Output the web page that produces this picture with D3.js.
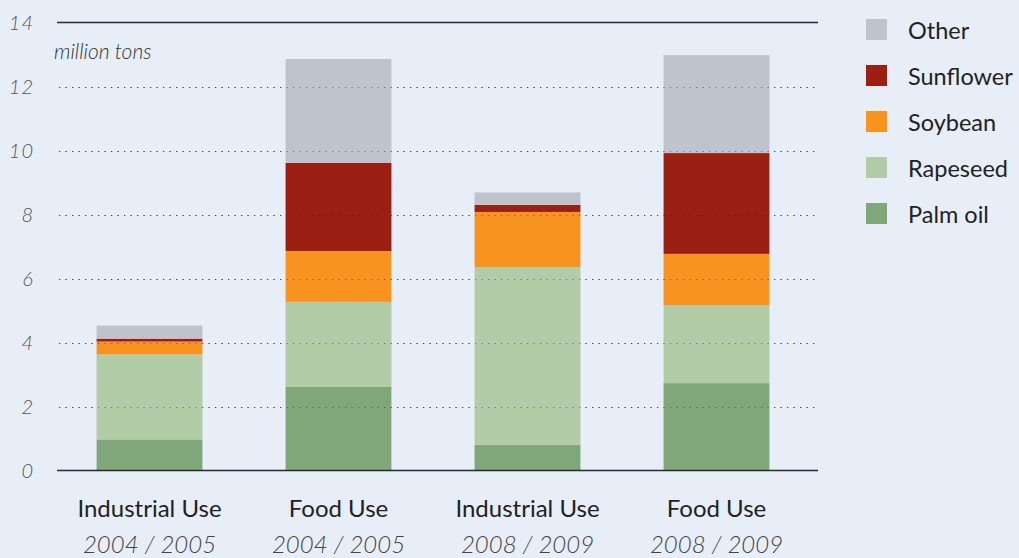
<!DOCTYPE html>
<html>
<head>
<meta charset="utf-8">
<script src="https://cdn.jsdelivr.net/npm/d3@7"></script>
<style>
  html, body { margin: 0; padding: 0; background: #e7eef8; }
  svg { display: block; font-family: Lato, "Open Sans", sans-serif; }
</style>
</head>
<body>
<svg id="chart" width="1019" height="558"></svg>
<script>
const categories = ['Industrial Use', 'Food Use', 'Industrial Use', 'Food Use'];
const years = ['2004 / 2005', '2004 / 2005', '2008 / 2009', '2008 / 2009'];
const seriesNames = ['Palm oil', 'Rapeseed', 'Soybean', 'Sunflower', 'Other'];
const palmOil = [0.97, 2.61, 0.80, 2.73];
const rapeseed = [2.66, 2.66, 5.56, 2.44];
const soybean = [0.40, 1.59, 1.72, 1.60];
const sunflower = [0.09, 2.75, 0.22, 3.15];
const other = [0.41, 3.25, 0.39, 3.06];
const yTicks = [0, 2, 4, 6, 8, 10, 12, 14];

const COLORS = {
    'Palm oil': '#7fa77a',
    'Rapeseed': '#b2cca8',
    'Soybean': '#f7931e',
    'Sunflower': '#9c1f14',
    'Other': '#bec4ce'
};

const svg = d3.select('#chart');

// rows for the stack
const rows = categories.map((c, i) => ({
    key: i,
    'Palm oil': palmOil[i],
    'Rapeseed': rapeseed[i],
    'Soybean': soybean[i],
    'Sunflower': sunflower[i],
    'Other': other[i]
}));
const stacked = d3.stack().keys(seriesNames)(rows);

const x = d3.scaleBand()
    .domain(d3.range(categories.length))
    .range([55, 811])
    .paddingInner(0.44)
    .paddingOuter(0.22);

const y = d3.scaleLinear()
    .domain([0, 14])
    .range([470.5, 22.5]);

const left = 57, right = 818;

// dotted gridlines
svg.append('g')
    .selectAll('line')
    .data(yTicks.filter(t => t > 0 && t < 14))
    .enter()
    .append('line')
    .attr('x1', left + 2)
    .attr('x2', right)
    .attr('y1', d => Math.round(y(d)) + 0.5)
    .attr('y2', d => Math.round(y(d)) + 0.5)
    .style('stroke', '#555')
    .style('stroke-width', 1.2)
    .style('stroke-dasharray', '1.2 5.3');

// bars
svg.append('g')
    .selectAll('g')
    .data(stacked)
    .enter()
    .append('g')
    .attr('fill', d => COLORS[d.key])
    .selectAll('rect')
    .data(d => d)
    .enter()
    .append('rect')
    .attr('x', d => x(d.data.key))
    .attr('width', x.bandwidth())
    .attr('y', d => y(d[1]))
    .attr('height', d => y(d[0]) - y(d[1]));

// redraw dots over the bars (they show through in the reference)
svg.append('g')
    .selectAll('line')
    .data(yTicks.filter(t => t > 0 && t < 14))
    .enter()
    .append('line')
    .attr('x1', left + 2)
    .attr('x2', right)
    .attr('y1', d => Math.round(y(d)) + 0.5)
    .attr('y2', d => Math.round(y(d)) + 0.5)
    .style('stroke', '#333')
    .style('stroke-opacity', 0.55)
    .style('stroke-width', 1.2)
    .style('stroke-dasharray', '1.2 5.3');

// solid top and bottom lines
svg.append('g')
    .selectAll('line')
    .data([0, 14])
    .enter()
    .append('line')
    .attr('x1', left)
    .attr('x2', right)
    .attr('y1', d => y(d))
    .attr('y2', d => y(d))
    .style('stroke', '#2a2a2a')
    .style('stroke-width', 1.6);

// y tick labels
svg.append('g')
    .selectAll('text')
    .data(yTicks)
    .enter()
    .append('text')
    .attr('x', 34)
    .attr('y', d => y(d) + 7)
    .attr('text-anchor', 'end')
    .style('font-style', 'italic')
    .style('font-weight', 300)
    .style('font-size', '20px')
    .style('letter-spacing', '1px')
    .style('fill', '#555')
    .text(d => d);

svg.append('text')
    .attr('x', 54)
    .attr('y', 59)
    .style('font-style', 'italic')
    .style('font-weight', 300)
    .style('font-size', '21px')
    .style('fill', '#333')
    .text('million tons');

// category labels
const xl = svg.append('g');
xl.selectAll('text.cat')
    .data(categories)
    .enter()
    .append('text')
    .attr('class', 'cat')
    .attr('x', (d, i) => x(i) + x.bandwidth() / 2)
    .attr('y', 517)
    .attr('text-anchor', 'middle')
    .style('font-size', '24px')
    .style('fill', '#222')
    .text(d => d);
xl.selectAll('text.yr')
    .data(years)
    .enter()
    .append('text')
    .attr('class', 'yr')
    .attr('x', (d, i) => x(i) + x.bandwidth() / 2)
    .attr('y', 553)
    .attr('text-anchor', 'middle')
    .style('font-size', '24px')
    .style('font-style', 'italic')
    .style('font-weight', 300)
    .style('fill', '#444')
    .text(d => d);

// legend
const legendKeys = seriesNames.slice().reverse();
const legend = svg.append('g')
    .attr('transform', 'translate(866 19)');
legend.selectAll('rect')
    .data(legendKeys)
    .enter()
    .append('rect')
    .attr('x', 0)
    .attr('y', (d, i) => i * 46)
    .attr('width', 21)
    .attr('height', 21)
    .attr('fill', d => COLORS[d]);
legend.selectAll('text')
    .data(legendKeys)
    .enter()
    .append('text')
    .attr('x', 42)
    .attr('y', (d, i) => i * 46 + 20)
    .style('font-size', '23.5px')
    .style('fill', '#222')
    .text(d => d);
</script>
</body>
</html>
